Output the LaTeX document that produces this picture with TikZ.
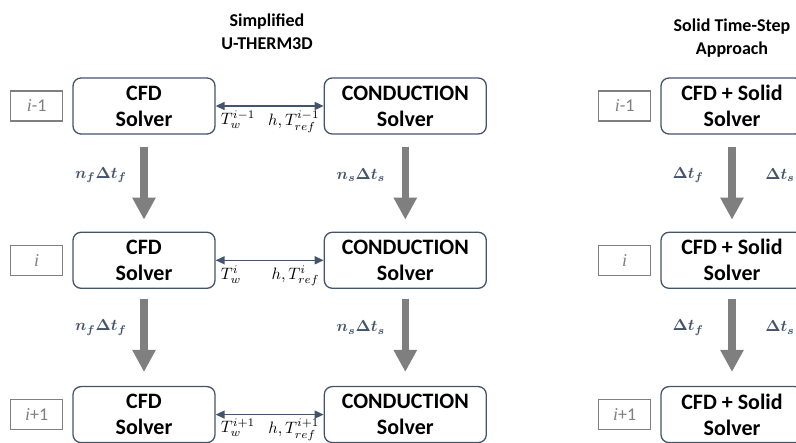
\documentclass[tikz,border=0pt]{standalone}
\usepackage{amsmath}
\usepackage{bm}
\usepackage{graphicx}
\usepackage{fontspec}
\setmainfont{Carlito}
\newfontfamily\stepfont{Liberation Serif}
\usetikzlibrary{positioning}
\usetikzlibrary{arrows.meta}

\definecolor{slate}{HTML}{44546A}
\definecolor{arrowgray}{HTML}{7F7F7F}

\newcommand{\stepi}{{\stepfont\itshape i}}
\newcommand{\cpl}[1]{\scalebox{1.65}{$#1$}}
\newcommand{\dts}[1]{\scalebox{1.6}{$\bm{#1}$}}

\begin{document}
\begin{tikzpicture}[
		x=1pt, y=-1pt,
		solver/.style={
			shape=rectangle,
			draw=slate,
			line width=1.3pt,
			rounded corners=8pt,
			minimum height=56pt,
			align=center,
			font={\fontsize{22}{26}\selectfont\bfseries}
		},
		steplabel/.style={
			shape=rectangle,
			draw=arrowgray,
			line width=1.3pt,
			minimum width=52pt,
			minimum height=30pt,
			text=arrowgray,
			font={\fontsize{18}{20}\selectfont}
		},
		flow/.style={
			draw=arrowgray,
			line width=7.5pt,
			-{Triangle[length=22pt,width=22pt]}
		},
		couple/.style={
			draw=slate,
			line width=1.5pt,
			{Triangle[length=9pt,width=8pt]}-{Triangle[length=9pt,width=8pt]}
		},
		coupletext/.style={
			inner sep=0.5pt
		},
		flowtext/.style={
			text=slate,
			inner sep=0.5pt
		},
		title/.style={
			align=center,
			font={\fontsize{18}{23}\selectfont\bfseries}
		}
		]
		
		\useasboundingbox (0,0) rectangle (796,443);
		
		% titles
		\node[title] (titleleft) at (267,32) {Simplified\\U-THERM3D};
		\node[title] (titleright) at (732,38) {Solid Time-Step\\Approach};
		
		% simplified U-THERM3D column
		\node[solver, minimum width=142pt] (cfd1) at (144,106) {CFD\\Solver};
		\node[solver, minimum width=142pt, below=97pt of cfd1] (cfd2) {CFD\\Solver};
		\node[solver, minimum width=142pt, below=97pt of cfd2] (cfd3) {CFD\\Solver};
		
		\node[solver, minimum width=162pt, right=108pt of cfd1] (cond1) {CONDUCTION\\Solver};
		\node[solver, minimum width=162pt, right=108pt of cfd2] (cond2) {CONDUCTION\\Solver};
		\node[solver, minimum width=162pt, right=108pt of cfd3] (cond3) {CONDUCTION\\Solver};
		
		\node[steplabel, left=9pt of cfd1] (stepa1) {\stepi-1};
		\node[steplabel, left=9pt of cfd2] (stepa2) {\stepi};
		\node[steplabel, left=9pt of cfd3] (stepa3) {\stepi+1};
		
		% solid time-step column
		\node[solver, minimum width=142pt] (solid1) at (732,106) {CFD + Solid\\Solver};
		\node[solver, minimum width=142pt, below=97pt of solid1] (solid2) {CFD + Solid\\Solver};
		\node[solver, minimum width=142pt, below=97pt of solid2] (solid3) {CFD + Solid\\Solver};
		
		\node[steplabel, left=9pt of solid1] (stepb1) {\stepi-1};
		\node[steplabel, left=9pt of solid2] (stepb2) {\stepi};
		\node[steplabel, left=9pt of solid3] (stepb3) {\stepi+1};
		
		%%%%%%%%%%
		
		\draw[couple] (cfd1.east) -- (cond1.west)
		node[coupletext, pos=0, anchor=north west, xshift=4pt, yshift=-4pt] {\cpl{T_w^{i-1}}}
		node[coupletext, pos=1, anchor=north east, xshift=-3pt, yshift=-4pt] {\cpl{h,T_{ref}^{i-1}}};
		\draw[couple] (cfd2.east) -- (cond2.west)
		node[coupletext, pos=0, anchor=north west, xshift=4pt, yshift=-4pt] {\cpl{T_w^{i}}}
		node[coupletext, pos=1, anchor=north east, xshift=-3pt, yshift=-4pt] {\cpl{h,T_{ref}^{i}}};
		\draw[couple] (cfd3.east) -- (cond3.west)
		node[coupletext, pos=0, anchor=north west, xshift=4pt, yshift=-3pt] {\cpl{T_w^{i+1}}}
		node[coupletext, pos=1, anchor=north east, xshift=-3pt, yshift=-3pt] {\cpl{h,T_{ref}^{i+1}}};
		
		\draw[flow] ([yshift=-12pt]cfd1.south) -- node[flowtext, left=13pt, yshift=8pt] {\dts{n_f\Delta t_f}} ([yshift=12pt]cfd2.north);
		\draw[flow] ([yshift=-10pt]cfd2.south) -- node[flowtext, left=13pt, yshift=8pt] {\dts{n_f\Delta t_f}} ([yshift=14pt]cfd3.north);
		
		\draw[flow] ([yshift=-12pt]cond1.south) -- node[flowtext, left=16pt, yshift=8pt] {\dts{n_s\Delta t_s}} ([yshift=12pt]cond2.north);
		\draw[flow] ([yshift=-10pt]cond2.south) -- node[flowtext, left=16pt, yshift=8pt] {\dts{n_s\Delta t_s}} ([yshift=14pt]cond3.north);
		
		\draw[flow] ([yshift=-12pt]solid1.south) -- node[flowtext, left=24pt, yshift=8pt] {\dts{\Delta t_f}}
		node[flowtext, right=29pt, yshift=8pt] {\dts{\Delta t_s}} ([yshift=12pt]solid2.north);
		\draw[flow] ([yshift=-10pt]solid2.south) -- node[flowtext, left=24pt, yshift=8pt] {\dts{\Delta t_f}}
		node[flowtext, right=29pt, yshift=8pt] {\dts{\Delta t_s}} ([yshift=14pt]solid3.north);
		
	\end{tikzpicture}
\end{document}
